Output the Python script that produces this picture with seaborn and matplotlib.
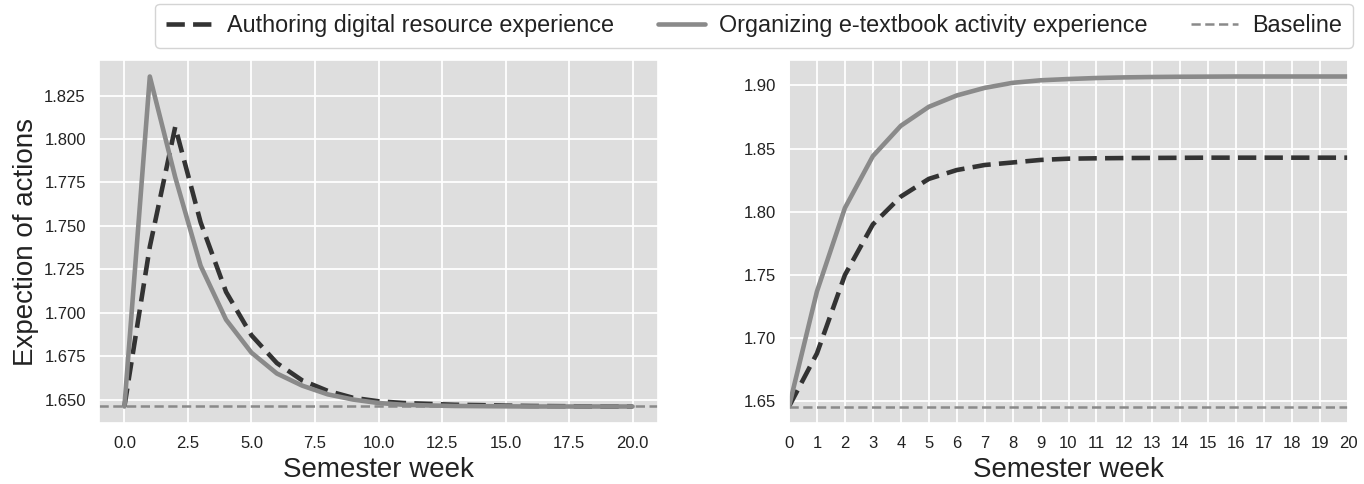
import numpy as np
import pandas as pd
import matplotlib
matplotlib.use("Agg")
import matplotlib.pyplot as plt
import seaborn as sns

weeks = list(range(21))

# Left panel (single action at week 1 / week 2 -> decays)
left_authoring = [1.646, 1.738, 1.807, 1.752, 1.712, 1.687, 1.671, 1.661, 1.655,
                  1.651, 1.649, 1.648, 1.6475, 1.647, 1.6468, 1.6465, 1.6463,
                  1.6462, 1.6461, 1.646, 1.646]
left_organizing = [1.646, 1.836, 1.778, 1.727, 1.696, 1.677, 1.665, 1.658, 1.653,
                   1.650, 1.648, 1.647, 1.6466, 1.6463, 1.6462, 1.6461, 1.646,
                   1.646, 1.646, 1.646, 1.646]

# Right panel (repeated actions -> saturation)
right_authoring = [1.646, 1.688, 1.750, 1.790, 1.812, 1.826, 1.833, 1.837, 1.839,
                   1.841, 1.842, 1.8423, 1.8425, 1.8426, 1.8427, 1.8428, 1.8428,
                   1.8428, 1.8428, 1.8428, 1.8428]
right_organizing = [1.646, 1.737, 1.803, 1.844, 1.868, 1.883, 1.892, 1.898, 1.902,
                    1.904, 1.905, 1.9058, 1.9063, 1.9066, 1.9068, 1.9069, 1.907,
                    1.907, 1.907, 1.907, 1.907]

baseline = 1.646

series_labels = ["Authoring digital resource experience",
                 "Organizing e-textbook activity experience",
                 "Baseline"]

left_xticks = [0, 2.5, 5, 7.5, 10, 12.5, 15, 17.5, 20]
left_xticklabels = ["0.0", "2.5", "5.0", "7.5", "10.0", "12.5", "15.0", "17.5", "20.0"]
left_yticks = [1.650, 1.675, 1.700, 1.725, 1.750, 1.775, 1.800, 1.825]
left_yticklabels = ["1.650", "1.675", "1.700", "1.725", "1.750", "1.775", "1.800", "1.825"]
right_yticks = [1.65, 1.70, 1.75, 1.80, 1.85, 1.90]
right_yticklabels = ["1.65", "1.70", "1.75", "1.80", "1.85", "1.90"]

sns.set_theme(style="darkgrid", rc={
    "axes.facecolor": "#dedede",
    "grid.color": "white",
    "grid.linewidth": 1.3,
})
plt.rcParams["font.family"] = ["Liberation Sans", "DejaVu Sans"]

fig = plt.figure(figsize=(13.64, 4.84), dpi=100)
ax1 = fig.add_axes([99 / 1364, 61 / 484, 559 / 1364, 363 / 484])
ax2 = fig.add_axes([789 / 1364, 61 / 484, 559 / 1364, 363 / 484])

dark = "#333333"
mid = "#8a8a8a"

for ax, a_vals, o_vals in [(ax1, left_authoring, left_organizing),
                           (ax2, right_authoring, right_organizing)]:
    df = pd.DataFrame({"week": weeks, "auth": a_vals, "org": o_vals})
    sns.lineplot(data=df, x="week", y="auth", ax=ax, color=dark, lw=3.3,
                 linestyle=(0, (4.0, 1.8)), label=series_labels[0])
    sns.lineplot(data=df, x="week", y="org", ax=ax, color=mid, lw=3.3,
                 label=series_labels[1])
    ax.axhline(baseline, color=mid, lw=1.8, linestyle=(0, (3.7, 1.8)),
               label=series_labels[2])
    ax.set_xlabel("Semester week", fontsize=20, color="#222222", labelpad=4)
    ax.tick_params(labelsize=12, colors="#222222")
    ax.get_legend().remove()

ax1.set_ylabel("Expection of actions", fontsize=20, color="#222222")
ax2.set_ylabel("")
ax1.set_xticks(left_xticks)
ax1.set_xticklabels(left_xticklabels)
ax1.set_yticks(left_yticks)
ax1.set_yticklabels(left_yticklabels)

ax2.set_xlim(0, 20)
ax2.set_xticks(weeks)
ax2.set_yticks(right_yticks)
ax2.set_yticklabels(right_yticklabels)

handles, labels = ax1.get_legend_handles_labels()
leg = fig.legend(handles, labels, loc="center", bbox_to_anchor=(754 / 1364, 1 - 25.5 / 484),
                 ncol=3, fontsize=16.8, handlelength=2.0, handletextpad=0.6,
                 columnspacing=1.9, frameon=True, fancybox=True, framealpha=1,
                 facecolor="white", edgecolor="#d4d4d4", borderpad=0.45)
leg.get_frame().set_linewidth(1.0)
for t in leg.get_texts():
    t.set_color("#222222")

fig.savefig("out.png", dpi=100, facecolor="white")
